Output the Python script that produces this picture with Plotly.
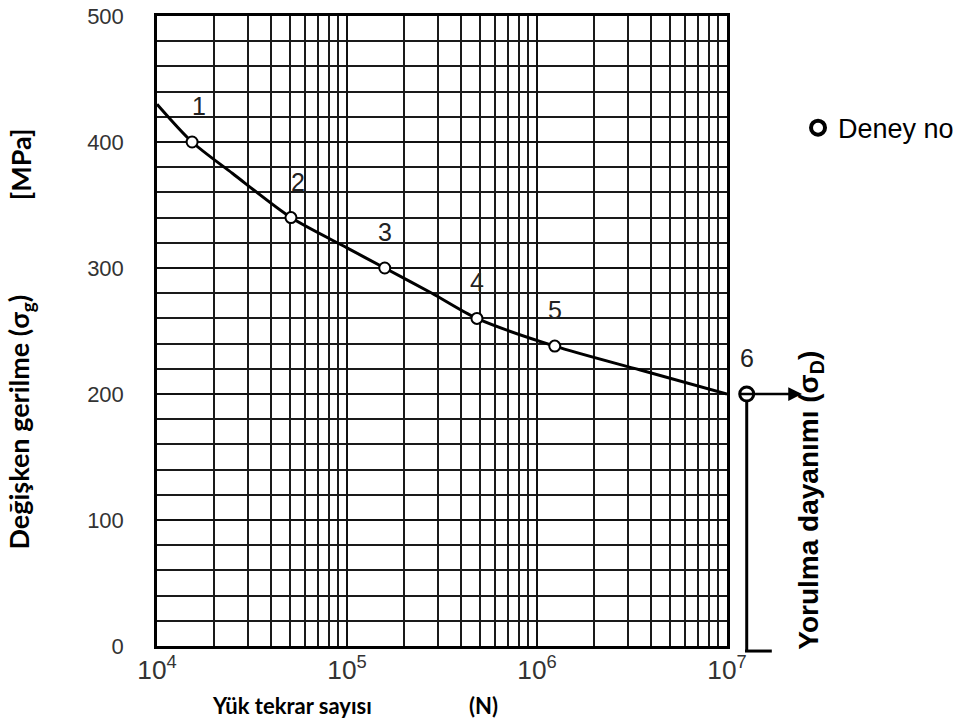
import math
import plotly.graph_objects as go

# --- data ---
N_curve = [1.0e4, 1.53e4, 2.5e4, 5.07e4, 1.0e5, 1.58e5, 2.8e5, 4.83e5, 1.24e6, 3.5e6, 1.0e7]
S_curve = [430, 400, 375, 340, 316, 300, 280, 260, 238, 219, 200]

test_no = ["1", "2", "3", "4", "5", "6"]
N_test = [1.53e4, 5.07e4, 1.58e5, 4.83e5, 1.24e6, 1.27e7]
S_test = [400, 340, 300, 260, 238, 200]

y_ticks = [0, 100, 200, 300, 400, 500]

X_MIN, X_MAX = 1e4, 1e7
Y_MIN, Y_MAX = 0, 500

ARIAL = "Liberation Sans, Arial, sans-serif"
CAL = "Lato, Carlito, Calibri, sans-serif"


def xpaper(n):
    return (math.log10(n) - math.log10(X_MIN)) / (math.log10(X_MAX) - math.log10(X_MIN))


def ypaper(s):
    return (s - Y_MIN) / (Y_MAX - Y_MIN)


fig = go.Figure()

fig.add_trace(go.Scatter(
    x=N_curve, y=S_curve, mode="lines",
    line=dict(color="black", width=3, shape="spline", smoothing=0.8),
    showlegend=False, hoverinfo="skip"))

inside = [i for i, n in enumerate(N_test) if n <= X_MAX]
outside = [i for i, n in enumerate(N_test) if n > X_MAX]

fig.add_trace(go.Scatter(
    x=[N_test[i] for i in inside], y=[S_test[i] for i in inside], mode="markers",
    marker=dict(symbol="circle", size=11, color="white",
                line=dict(color="black", width=2)),
    cliponaxis=False, showlegend=False))

# legend entry
fig.add_trace(go.Scatter(
    x=[None], y=[None], mode="markers", name="Deney no",
    marker=dict(symbol="circle", size=14, color="white",
                line=dict(color="black", width=4)),
    showlegend=True))

annotations = []
shapes = []
for i, (t, n, s) in enumerate(zip(test_no, N_test, S_test)):
    annotations.append(dict(x=xpaper(n), y=ypaper(s), xref="paper", yref="paper",
                            xanchor="center", yanchor="middle",
                            text=t, showarrow=False, yshift=36,
                            xshift=7 if t in ("1", "2") else 0,
                            font=dict(family=ARIAL, size=25, color="#222")))

# test 6 (beyond 10^7) drawn as a circle outside the plot frame
for i in outside:
    x6 = xpaper(N_test[i])
    y6 = ypaper(S_test[i])
    # vertical bar down to the axis and foot
    shapes.append(dict(type="line", xref="paper", yref="paper", x0=x6, x1=x6,
                       y0=y6 - 0.012, y1=-0.008, line=dict(color="black", width=3)))
    shapes.append(dict(type="line", xref="paper", yref="paper", x0=x6 - 0.003, x1=x6 + 0.044,
                       y0=-0.008, y1=-0.008, line=dict(color="black", width=3)))
    # arrow to the label
    annotations.append(dict(x=x6 + 0.097, y=y6, xref="paper", yref="paper",
                            axref="pixel", ayref="pixel", ax=-64, ay=0, text="",
                            showarrow=True, arrowhead=2, arrowsize=1.1,
                            arrowwidth=2.5, arrowcolor="black"))
    shapes.append(dict(type="circle", xref="paper", yref="paper",
                       xsizemode="pixel", ysizemode="pixel",
                       xanchor=x6, yanchor=y6,
                       x0=-7, x1=7, y0=-7, y1=7,
                       line=dict(color="black", width=3), layer="above"))

# axis titles
annotations += [
    dict(x=-0.24, y=0.355, xref="paper", yref="paper", textangle=-90,
         xanchor="center", yanchor="middle",
         text="<b>Değişken gerilme (σ<sub>g</sub>)</b>", showarrow=False,
         font=dict(family=CAL, size=27, color="black")),
    dict(x=-0.24, y=0.765, xref="paper", yref="paper", textangle=-90,
         xanchor="center", yanchor="middle",
         text="<b>[MPa]</b>", showarrow=False,
         font=dict(family=CAL, size=27, color="black")),
    dict(x=0.237, y=-0.094, xref="paper", yref="paper",
         xanchor="center", yanchor="middle",
         text="<b>Yük tekrar sayısı</b>", showarrow=False,
         font=dict(family=CAL, size=22, color="black")),
    dict(x=0.572, y=-0.094, xref="paper", yref="paper",
         xanchor="center", yanchor="middle",
         text="<b>(N)</b>", showarrow=False,
         font=dict(family=CAL, size=22, color="black")),
    dict(x=1.147, y=0.232, xref="paper", yref="paper", textangle=-90,
         xanchor="center", yanchor="middle",
         text="<b>Yorulma dayanımı (σ<sub>D</sub>)</b>", showarrow=False,
         font=dict(family=ARIAL, size=28, color="black")),
]

fig.update_xaxes(
    type="log", range=[math.log10(X_MIN), math.log10(X_MAX)], dtick=1, exponentformat="power",
    showgrid=True, gridcolor="#111", gridwidth=2.4,
    minor=dict(dtick="D1", showgrid=True, gridcolor="#1a1a1a", gridwidth=1.5, ticks=""),
    showline=True, mirror=True, linecolor="black", linewidth=2.5,
    ticks="", zeroline=False, automargin=False,
    tickfont=dict(family=ARIAL, size=21, color="#333"))

fig.update_yaxes(
    range=[Y_MIN, Y_MAX], tickvals=y_ticks,
    showgrid=True, gridcolor="#111", gridwidth=1.6,
    minor=dict(dtick=20, showgrid=True, gridcolor="#1a1a1a", gridwidth=1.6, ticks=""),
    showline=True, mirror=True, linecolor="black", linewidth=2.5,
    ticks="outside", ticklen=26, tickcolor="rgba(0,0,0,0)",
    zeroline=False, automargin=False,
    tickfont=dict(family=ARIAL, size=22, color="#333"))

fig.update_layout(
    width=978, height=728,
    margin=dict(l=157, r=251, t=16, b=82),
    paper_bgcolor="white", plot_bgcolor="white",
    showlegend=True,
    legend=dict(x=1.1246, y=0.822, xanchor="left", yanchor="middle",
                font=dict(family=ARIAL, size=27, color="black"),
                bgcolor="rgba(0,0,0,0)", itemwidth=30),
    annotations=annotations, shapes=shapes)

fig.write_html("out.html", config={"displayModeBar": False},
               post_script="document.body.style.margin='0px';document.body.style.overflow='hidden';")
